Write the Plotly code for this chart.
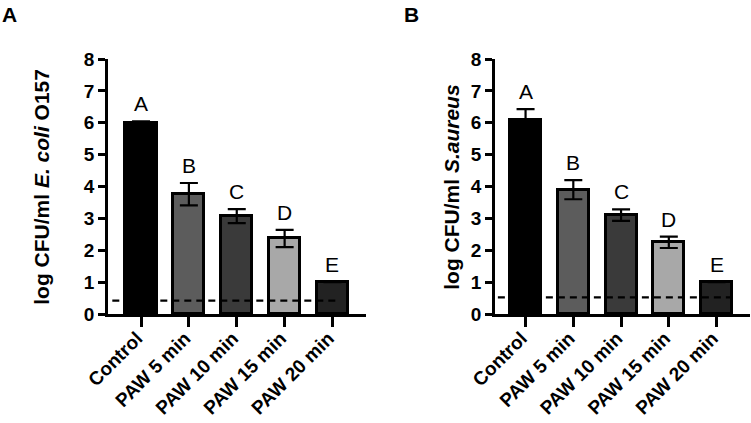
import plotly.graph_objects as go

categories = ["Control", "PAW 5 min", "PAW 10 min", "PAW 15 min", "PAW 20 min"]
bar_colors = ["#000000", "#5c5c5c", "#3a3a3a", "#a8a8a8", "#222222"]

ecoli_mean = [5.99, 3.76, 3.07, 2.37, 1.0]
ecoli_err = [0.05, 0.35, 0.22, 0.27, 0.0]
ecoli_letters = ["A", "B", "C", "D", "E"]
ecoli_lod = 0.42

saureus_mean = [6.08, 3.90, 3.10, 2.25, 1.0]
saureus_err = [0.35, 0.30, 0.18, 0.18, 0.0]
saureus_letters = ["A", "B", "C", "D", "E"]
saureus_lod = 0.52

yticks = [0, 1, 2, 3, 4, 5, 6, 7, 8]

FONT = "Arial, Liberation Sans, sans-serif"
idx = list(range(len(categories)))

fig = go.Figure()

def add_panel(means, errs, xa, ya):
    fig.add_trace(go.Bar(
        x=idx, y=means, width=0.65,
        marker=dict(color=bar_colors, line=dict(color="black", width=3)),
        error_y=dict(type="data", array=errs, visible=True, color="black",
                     thickness=2.2, width=9),
        xaxis=xa, yaxis=ya, showlegend=False))

add_panel(ecoli_mean, ecoli_err, "x", "y")
add_panel(saureus_mean, saureus_err, "x2", "y2")

annotations = []
def add_letters(means, errs, letters, xref, yref):
    for i, (m, e, L) in enumerate(zip(means, errs, letters)):
        annotations.append(dict(x=i, y=m + e + 0.55, xref=xref, yref=yref, text=L,
                                showarrow=False, yanchor="middle",
                                font=dict(family=FONT, size=21, color="black")))

add_letters(ecoli_mean, ecoli_err, ecoli_letters, "x", "y")
add_letters(saureus_mean, saureus_err, saureus_letters, "x2", "y2")

annotations.append(dict(x=42/751, y=0.5585, xref="paper", yref="paper",
                        text="<b>log CFU/ml <i>E. coli</i> O157</b>", textangle=-90,
                        showarrow=False, xanchor="center", yanchor="middle",
                        font=dict(family=FONT, size=21, color="black")))
annotations.append(dict(x=452/751, y=0.5585, xref="paper", yref="paper",
                        text="<b>log CFU/ml <i>S.aureus</i></b>", textangle=-90,
                        showarrow=False, xanchor="center", yanchor="middle",
                        font=dict(family=FONT, size=21, color="black")))
annotations.append(dict(x=0/751, y=1 - 1/423, xref="paper", yref="paper",
                        text="<b>A</b>", showarrow=False, xanchor="left", yanchor="top",
                        font=dict(family=FONT, size=21, color="black")))
annotations.append(dict(x=402/751, y=1 - 1/423, xref="paper", yref="paper",
                        text="<b>B</b>", showarrow=False, xanchor="left", yanchor="top",
                        font=dict(family=FONT, size=21, color="black")))

shapes = [
    dict(type="line", xref="x", yref="y", x0=-0.6, x1=4.12, y0=ecoli_lod, y1=ecoli_lod,
         line=dict(color="black", width=2.2, dash="7px,5px"), layer="above"),
    dict(type="line", xref="x2", yref="y2", x0=-0.58, x1=4.38, y0=saureus_lod, y1=saureus_lod,
         line=dict(color="black", width=2.2, dash="7px,5px"), layer="above"),
]

xcommon = dict(tickmode="array", tickvals=idx,
               ticktext=["<b>%s</b>" % c for c in categories],
               tickangle=-45, ticks="outside", ticklen=10, tickwidth=2.5, tickcolor="black",
               showline=True, linewidth=2.5, linecolor="black", showgrid=False, zeroline=False,
               tickfont=dict(family=FONT, size=19, color="black"), automargin=False,
               ticklabelstandoff=-7, ticklabelshift=-4)
ycommon = dict(range=[0, 8], tickmode="array", tickvals=yticks,
               ticktext=["<b>%d</b>" % v for v in yticks],
               ticks="outside", ticklen=7, tickwidth=2.5, tickcolor="black",
               showline=True, linewidth=2.5, linecolor="black", showgrid=False, zeroline=False,
               tickfont=dict(family=FONT, size=19, color="black"), domain=[109/423, 364/423],
               automargin=False)

fig.update_layout(
    template="none",
    width=751, height=423, margin=dict(l=0, r=0, t=0, b=0, pad=0),
    paper_bgcolor="white", plot_bgcolor="white",
    xaxis=dict(xcommon, domain=[108/751, 366/751], range=[-0.69, 4.7], anchor="y"),
    yaxis=dict(ycommon, anchor="x"),
    xaxis2=dict(xcommon, domain=[495/751, 750/751], range=[-0.64, 4.7], anchor="y2"),
    yaxis2=dict(ycommon, anchor="x2"),
    annotations=annotations, shapes=shapes, bargap=0,
)

fig.write_html("out.html")
